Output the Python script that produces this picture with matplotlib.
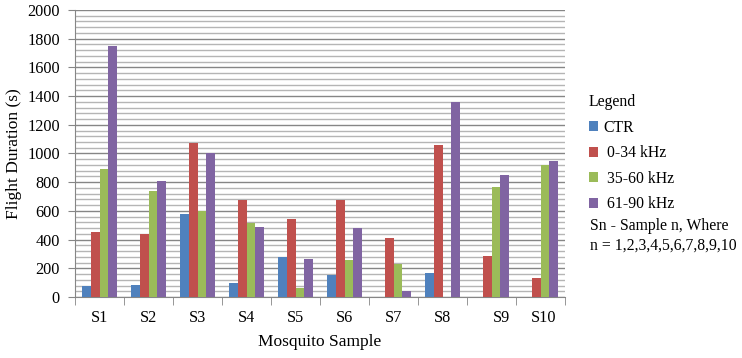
import numpy as np
import matplotlib.pyplot as plt
import matplotlib.transforms as mtransforms
from matplotlib.ticker import MultipleLocator, FixedLocator

plt.rcParams['font.family'] = ['Liberation Serif', 'DejaVu Serif']

samples = ['S1', 'S2', 'S3', 'S4', 'S5', 'S6', 'S7', 'S8', 'S9', 'S10']
ctr = [78, 85, 578, 100, 279, 155, 0, 167, 0, 0]
khz_0_34 = [455, 440, 1075, 678, 544, 678, 413, 1062, 287, 133]
khz_35_60 = [892, 738, 602, 519, 65, 258, 233, 0, 768, 917]
khz_61_90 = [1750, 805, 1005, 488, 265, 481, 42, 1360, 852, 950]

series = [ctr, khz_0_34, khz_35_60, khz_61_90]
labels = ['CTR', ' 0-34 kHz', ' 35-60 kHz', ' 61-90 kHz']
colors = ['#4F81BD', '#C0504D', '#9BBB59', '#8064A2']

fig = plt.figure(figsize=(7.42, 3.58), dpi=100)
ax = fig.add_axes([75 / 742, 61 / 358, 490 / 742, 287 / 358])

x = np.arange(len(samples))
w = 0.183
for i, (vals, lab, col) in enumerate(zip(series, labels, colors)):
    ax.bar(x + (i - 1.5) * w, vals, width=w, color=col, label=lab, zorder=3)

ax.set_xlim(-0.5, len(samples) - 0.5)
ax.set_ylim(0, 2000)
ax.yaxis.set_major_locator(MultipleLocator(200))
ax.yaxis.set_minor_locator(MultipleLocator(40))
ax.grid(which='major', axis='y', color='#868686', linewidth=1.0, zorder=0)
ax.grid(which='minor', axis='y', color='#b5b5b5', linewidth=1.0, zorder=0)
ax.tick_params(axis='y', which='minor', length=0)
ax.tick_params(axis='y', which='major', length=5, color='#868686', labelsize=11.7, pad=6)

ax.set_xticks(x)
ax.set_xticklabels(samples)
ax.xaxis.set_minor_locator(FixedLocator(np.arange(-0.5, len(samples), 1.0)))
ax.tick_params(axis='x', which='major', length=0, labelsize=11.7, pad=9)
ax.tick_params(axis='x', which='minor', length=6, color='#868686')

# S9 / S10 labels sit a bit right of centre in the original
shifts = {'S9': 10, 'S10': 3}
for tl in ax.get_xticklabels():
    dx = shifts.get(tl.get_text(), 0)
    if dx:
        tl.set_transform(tl.get_transform() + mtransforms.ScaledTranslation(dx / 100, 0, fig.dpi_scale_trans))

for s in ['top', 'right']:
    ax.spines[s].set_visible(False)
for s in ['left', 'bottom']:
    ax.spines[s].set_color('#868686')

ax.set_xlabel('Mosquito Sample', fontsize=12.5, labelpad=6)
ax.set_ylabel('Flight Duration (s)', fontsize=12.5, labelpad=4)

leg = ax.legend(title='Legend', loc='upper left', bbox_to_anchor=(1.02, 0.755),
                frameon=False, fontsize=11.3, title_fontsize=11.3, handlelength=0.6,
                handleheight=0.6, handletextpad=0.3, labelspacing=0.6)
leg._legend_box.align = 'left'
fig.text(590 / 742, 1 - 236 / 358, 'Sn - Sample n, Where\nn = 1,2,3,4,5,6,7,8,9,10',
         fontsize=11.3, va='center', ha='left', linespacing=1.25)

fig.savefig('out.png', dpi=100)
